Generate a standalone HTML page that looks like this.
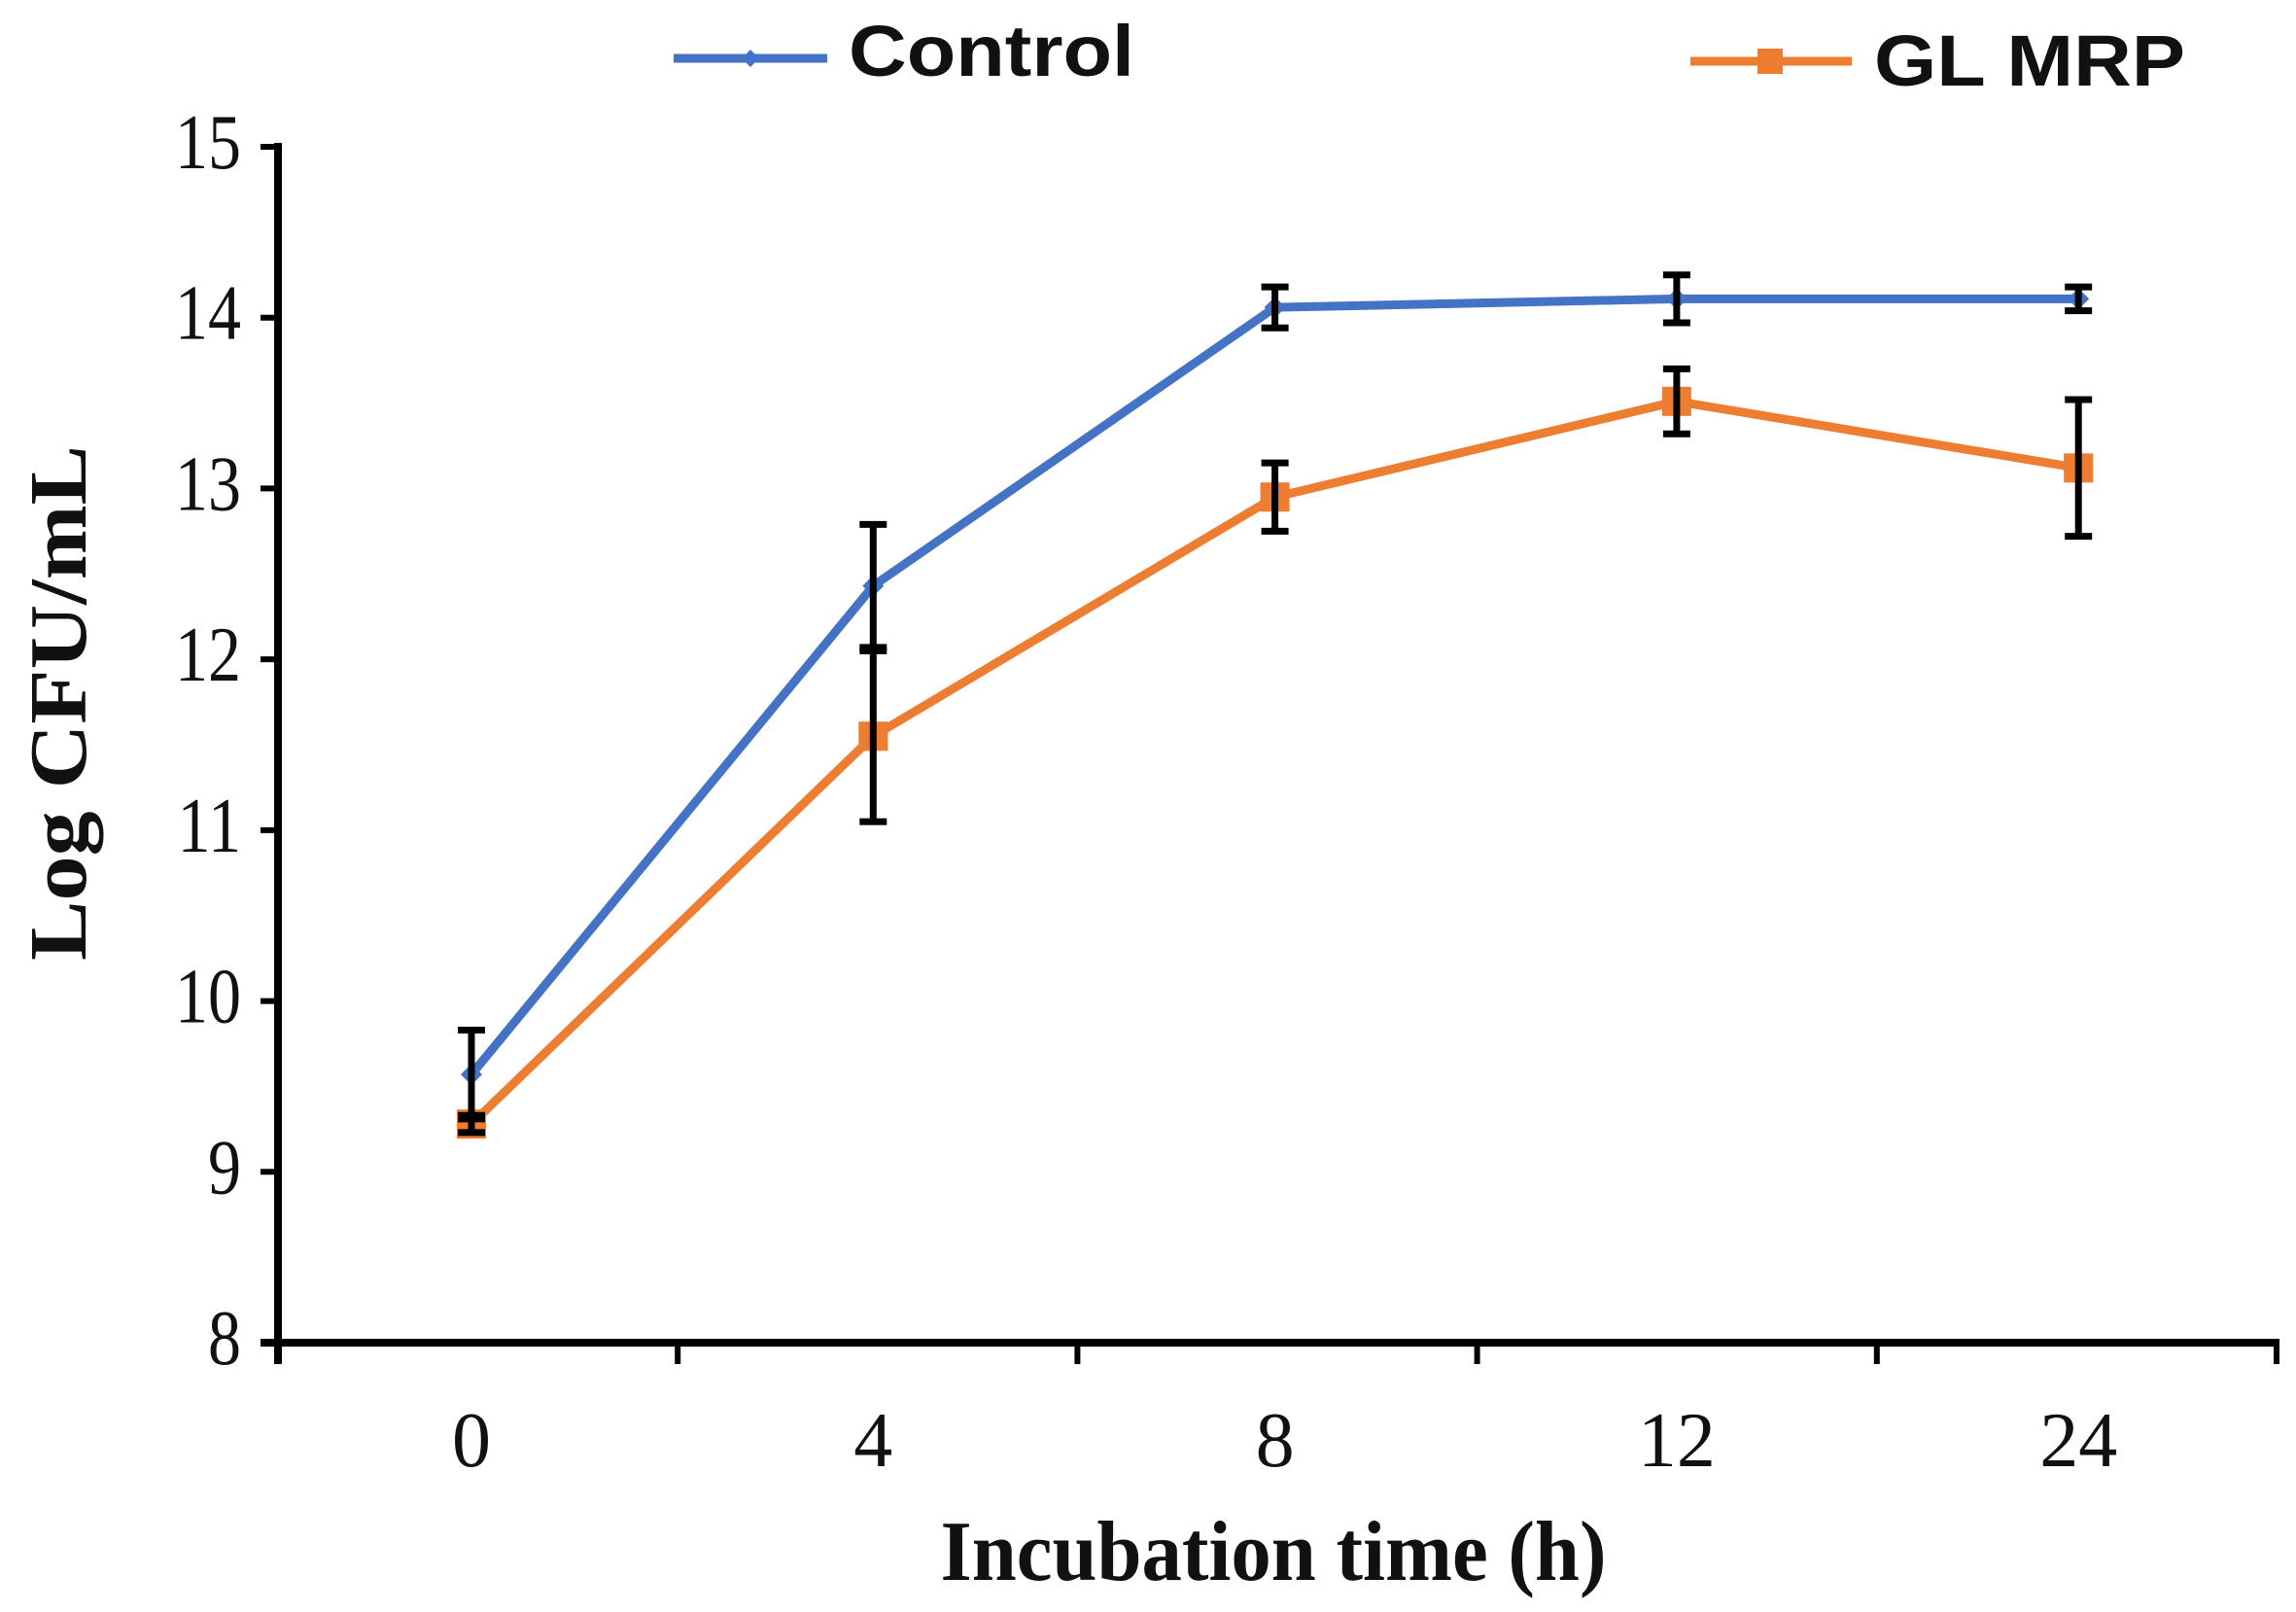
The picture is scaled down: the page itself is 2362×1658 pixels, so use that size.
<!DOCTYPE html>
<html><head><meta charset="utf-8"><style>html,body{margin:0;padding:0;background:#fff}svg{display:block}</style></head>
<body>
<svg id="chart" xmlns="http://www.w3.org/2000/svg" width="2362" height="1658" viewBox="0 0 2362 1658">
<g>
 <g>
  <line x1="693" y1="60" x2="851" y2="60" stroke="#4472C4" stroke-width="9"/>
  <path d="M772 51 L781 60 L772 69 L763 60Z" fill="#4472C4"/>
  <text x="873" y="78" font-family="Liberation Sans, sans-serif" font-weight="bold" font-size="74" fill="#111" textLength="294" lengthAdjust="spacingAndGlyphs">Control</text>
 </g>
 <g>
  <line x1="1739" y1="63" x2="1905" y2="63" stroke="#ED7D31" stroke-width="9"/>
  <rect x="1808" y="50" width="26" height="26" fill="#ED7D31"/>
  <text x="1928" y="88" font-family="Liberation Sans, sans-serif" font-weight="bold" font-size="74" fill="#111" textLength="320" lengthAdjust="spacingAndGlyphs">GL MRP</text>
 </g>
</g>
<g id="axes"></g>
<g id="series"></g>
<text x="1310" y="1625" text-anchor="middle" font-family="Liberation Serif, serif" font-weight="bold" font-size="88" fill="#111" textLength="685" lengthAdjust="spacingAndGlyphs">Incubation time (h)</text>
<text transform="translate(88,723) rotate(-90)" text-anchor="middle" font-family="Liberation Serif, serif" font-weight="bold" font-size="84" fill="#111" textLength="530" lengthAdjust="spacingAndGlyphs">Log CFU/mL</text>
</svg>
<script>
const categories = ["0","4","8","12","24"];
const yTicks = [8,9,10,11,12,13,14,15];
const controlValues = [9.57,12.43,14.06,14.11,14.11];
const controlErrors = [0.26,0.36,0.12,0.14,0.07];
const glmrpValues = [9.28,11.55,12.95,13.51,13.12];
const glmrpErrors = [0.05,0.5,0.2,0.19,0.4];

const NS="http://www.w3.org/2000/svg";
const L=286,R=2342,T=151,B=1381,ymin=8,ymax=15;
function xs(i){return 485+i*413.3;}
function ys(v){return B-(v-ymin)/(ymax-ymin)*(B-T);}
function mk(tag,attrs,parent){const e=document.createElementNS(NS,tag);for(const k in attrs)e.setAttribute(k,attrs[k]);parent.appendChild(e);return e;}
const axes=document.getElementById('axes'),series=document.getElementById('series');
let a=mk('line',{x1:L,y1:T-4,x2:L,y2:B+22,stroke:'#000','stroke-width':8},axes);


a=mk('line',{x1:L-18,y1:B,x2:R+3,y2:B,stroke:'#000','stroke-width':8},axes);


yTicks.forEach(v=>{
 const y=ys(v);
 let t=mk('line',{x1:L-18,y1:y,x2:L,y2:y,stroke:'#000','stroke-width':6},axes);
 
 
 let tx=mk('text',{x:248/0.85-248*0.15/0.85,y:y+22,'text-anchor':'end','font-family':'Liberation Serif, serif','font-size':80,fill:'#111',transform:`translate(${248*0.15},0) scale(0.85,1)`},axes);
 tx.textContent=v;
 
 
});
for(let i=0;i<=categories.length;i++){
 const x=L+i*(R-L)/categories.length;
 let t=mk('line',{x1:x,y1:B,x2:x,y2:B+22,stroke:'#000','stroke-width':6},axes);
 
 
}
categories.forEach((c,i)=>{
 let tx=mk('text',{x:xs(i),y:1508,'text-anchor':'middle','font-family':'Liberation Serif, serif','font-size':80,fill:'#111'},axes);
 tx.textContent=c;
 
 
});
function drawSeries(vals,errs,color,name,marker){
 const g=mk('g',{},series);
 
 
 const pl=mk('polyline',{points:vals.map((v,i)=>xs(i)+','+ys(v)).join(' '),fill:'none',stroke:color,'stroke-width':9,'stroke-linejoin':'round'},g);
 
 
 vals.forEach((v,i)=>{
  const x=xs(i),y=ys(v);
  let m;
  if(marker==='square'){m=mk('rect',{x:x-15,y:y-15,width:30,height:30,fill:color},g);}
  else{m=mk('path',{d:`M${x} ${y-11} L${x+11} ${y} L${x} ${y+11} L${x-11} ${y}Z`,fill:color},g);}
  
  
  const e=errs[i],y1=ys(v+e),y2=ys(v-e);
  const eb=mk('path',{d:`M${x} ${y1} V${y2} M${x-14} ${y1} H${x+14} M${x-14} ${y2} H${x+14}`,stroke:'#000','stroke-width':7,fill:'none'},g);
  
  
 });
}
drawSeries(glmrpValues,glmrpErrors,'#ED7D31','gl-mrp','square');
drawSeries(controlValues,controlErrors,'#4472C4','control','diamond');
</script>
</body></html>
